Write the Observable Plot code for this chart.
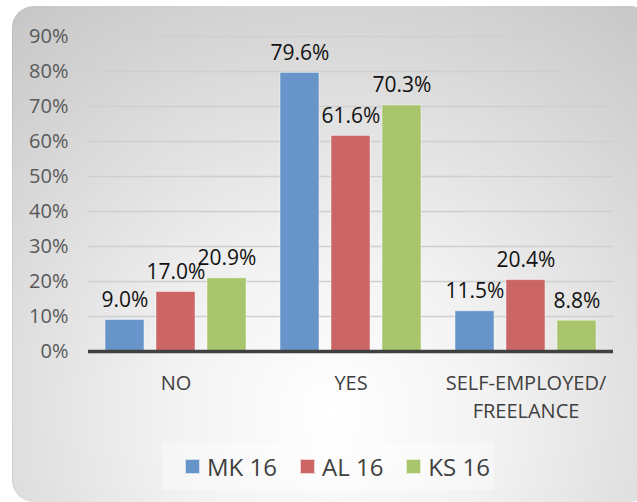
<!DOCTYPE html>
<html>
<head>
<meta charset="utf-8">
<script src="https://cdn.jsdelivr.net/npm/d3@7"></script>
<script src="https://cdn.jsdelivr.net/npm/@observablehq/plot@0.6"></script>
<style>
  html, body { margin: 0; padding: 0; background: #ffffff; }
  #wrap { position: relative; width: 637px; height: 502px; overflow: hidden; font-family: "Open Sans", sans-serif; }
  #panel { position: absolute; left: 12px; top: 6px; width: 640px; height: 496px; border-radius: 22px;
    background: radial-gradient(circle farthest-corner at 50% 82%, #ffffff 0%, #f3f3f3 30%, #c6c6c6 100%);
    box-shadow: inset 1px 0 0 rgba(0,0,0,0.06); }
  #chart { position: absolute; left: 0; top: 0; }
  #legend { position: absolute; left: 162px; top: 443px; width: 332px; height: 47px; box-sizing: border-box;
    background: rgba(255,255,255,0.35); display: flex; align-items: center; padding-left: 23px; white-space: nowrap; }
  .item { display: flex; align-items: center; margin-right: 23px; flex-shrink: 0; }
  .sw { width: 13px; height: 13px; border: 1px solid rgba(255,255,255,0.7); margin-right: 7px; flex-shrink: 0; }
  .lab { font-size: 24px; color: #404040; line-height: 1; white-space: nowrap; }
</style>
</head>
<body>
<div id="wrap">
  <div id="panel"></div>
  <div id="chart"></div>
  <div id="legend"></div>
</div>
<script>
const categories = ["NO", "YES", "SELF-EMPLOYED"];
const categoryLabels = ["NO", "YES", "SELF-EMPLOYED/\nFREELANCE"];
const series = ["MK 16", "AL 16", "KS 16"];
const mk16 = [9.0, 79.6, 11.5];
const al16 = [17.0, 61.6, 20.4];
const ks16 = [20.9, 70.3, 8.8];
const colors = ["#6794c9", "#cc6565", "#a8c56b"];
const yTicks = [0, 10, 20, 30, 40, 50, 60, 70, 80, 90];
const gridTicks = [10, 20, 30, 40, 50, 60, 70, 80, 90];

const valuesBySeries = [mk16, al16, ks16];
const rows = [];
categories.forEach((c, i) => series.forEach((s, j) => rows.push({cat: c, series: s, value: valuesBySeries[j][i]})));

const chart = Plot.plot({
  width: 637,
  height: 435,
  marginLeft: 87,
  marginRight: 24,
  marginTop: 36,
  marginBottom: 84,
  style: {background: "transparent", fontFamily: "Open Sans, sans-serif", overflow: "visible"},
  fx: {domain: categories, padding: 0, label: null},
  x: {domain: series, paddingInner: 0.23, paddingOuter: 0.3, axis: null, label: null},
  y: {domain: [0, 90], label: null},
  color: {domain: series, range: colors},
  marks: [
    Plot.ruleY(gridTicks, {stroke: "#cfcfcf", strokeWidth: 1.3}),
    Plot.barY(rows, {fx: "cat", x: "series", y: "value", fill: "series", stroke: "#ffffff", strokeOpacity: 0.45, strokeWidth: 1}),
    Plot.ruleY([0], {stroke: "#404040", strokeWidth: 3.5}),
    Plot.text(rows, {fx: "cat", x: "series", y: "value", text: d => d.value.toFixed(1) + "%", dy: -13, lineAnchor: "bottom", fontSize: 21, fill: "#111111"}),
    Plot.axisY(yTicks, {tickSize: 0, tickPadding: 20, tickFormat: d => d + "%", fontSize: 20, fill: "#595959", label: null}),
    Plot.axisFx({anchor: "bottom", tickSize: 0, tickPadding: 19, lineHeight: 1.4, fontSize: 20, fill: "#404040", label: null,
      tickFormat: d => categoryLabels[categories.indexOf(d)]})
  ]
});
document.getElementById("chart").appendChild(chart);

const legend = document.getElementById("legend");
series.forEach((s, i) => {
  const item = document.createElement("div");
  item.className = "item";
  const sw = document.createElement("div");
  sw.className = "sw";
  sw.style.background = colors[i];
  const lab = document.createElement("span");
  lab.className = "lab";
  lab.textContent = s;
  item.appendChild(sw);
  item.appendChild(lab);
  legend.appendChild(item);
});
</script>
</body>
</html>
